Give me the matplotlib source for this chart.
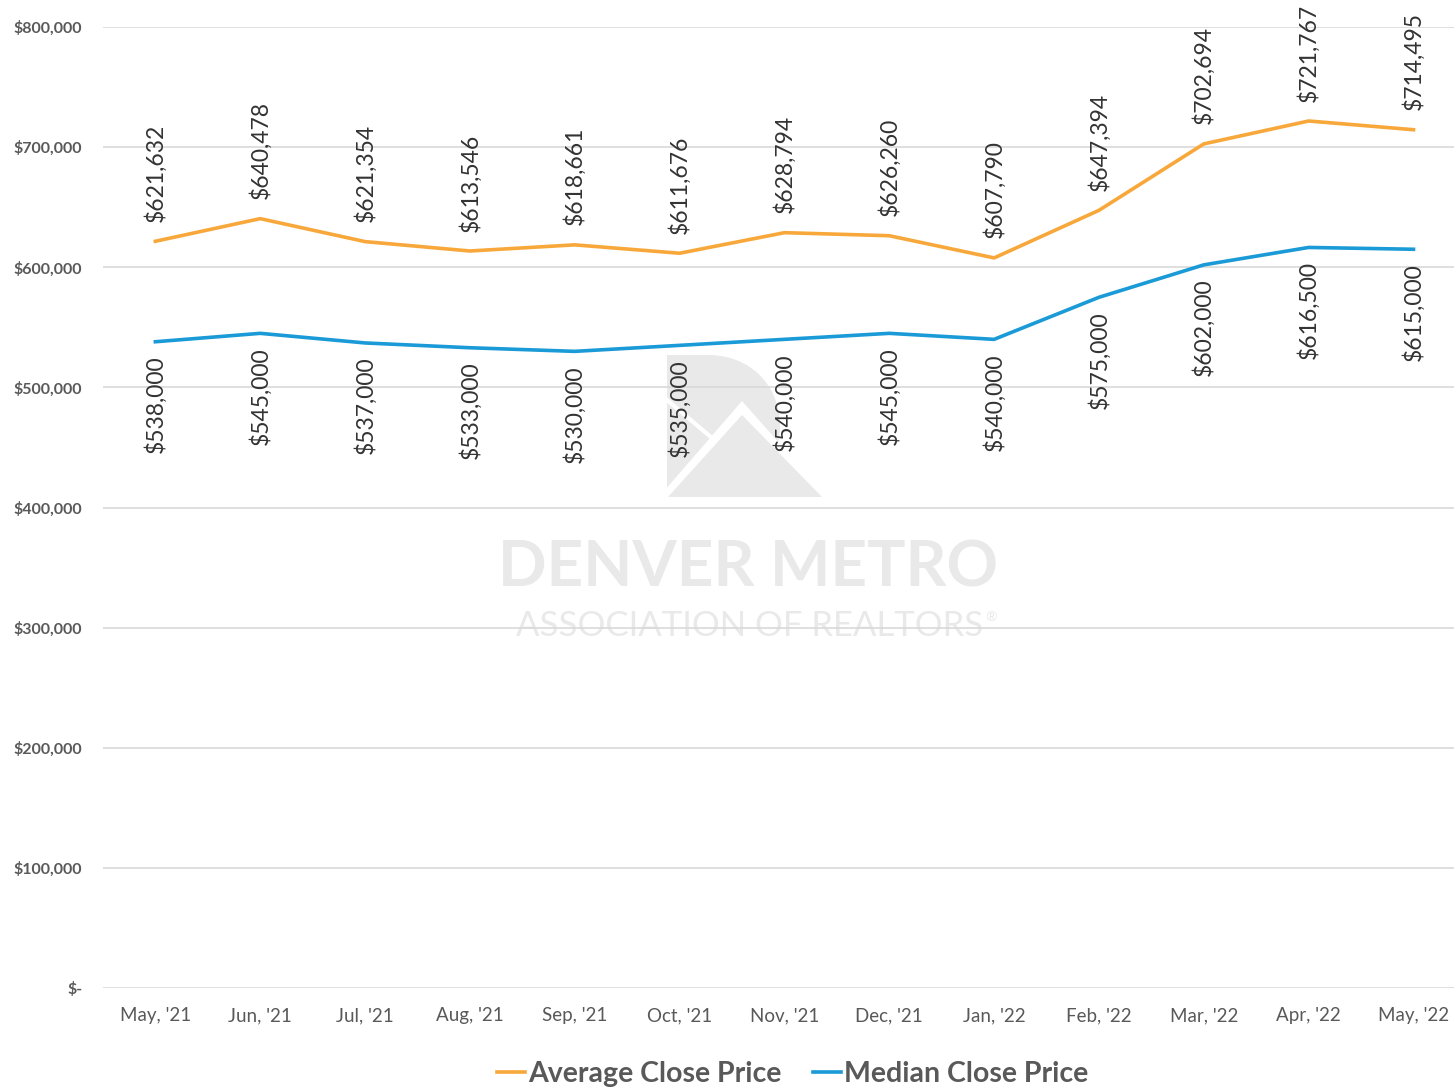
import matplotlib.pyplot as plt
import matplotlib.patches as mpatches
from matplotlib.path import Path
from matplotlib.ticker import FuncFormatter

# Datos
months = ["May, '21", "Jun, '21", "Jul, '21", "Aug, '21", "Sep, '21", "Oct, '21",
          "Nov, '21", "Dec, '21", "Jan, '22", "Feb, '22", "Mar, '22", "Apr, '22", "May, '22"]
avg_price = [621632, 640478, 621354, 613546, 618661, 611676, 628794,
             626260, 607790, 647394, 702694, 721767, 714495]
median_price = [538000, 545000, 537000, 533000, 530000, 535000, 540000,
                545000, 540000, 575000, 602000, 616500, 615000]

plt.rcParams['font.family'] = ['Lato', 'DejaVu Sans']

orange = '#F8A83B'
blue = '#1A9AD6'
text_gray = '#595959'
label_gray = '#333333'

W, H = 1454, 1089
def fp(px, py):
    # pixel -> coordenadas de figura
    return (px / W, 1 - py / H)

fig = plt.figure(figsize=(W / 100, H / 100), dpi=100)
ax = fig.add_axes([0.0708, 0.0927, 0.9374, 0.8825])
ax.patch.set_visible(False)

x = list(range(len(months)))
ax.plot(x, avg_price, color=orange, lw=2.6, label='Average Close Price', zorder=3)
ax.plot(x, median_price, color=blue, lw=2.6, label='Median Close Price', zorder=3)

# Etiquetas de datos
for i in x:
    ax.annotate(f"${avg_price[i]:,}", (i, avg_price[i]), xytext=(0, 14),
                textcoords='offset points', rotation=90, ha='center', va='bottom',
                fontsize=16.5, color=label_gray, zorder=4)
    ax.annotate(f"${median_price[i]:,}", (i, median_price[i]), xytext=(0, -10),
                textcoords='offset points', rotation=90, ha='center', va='top',
                fontsize=16.5, color=label_gray, zorder=4)

ax.set_xlim(-0.5, 12.5)
ax.set_ylim(0, 800000)
ax.set_yticks(range(0, 800001, 100000))
ax.yaxis.set_major_formatter(FuncFormatter(lambda v, p: '$-' if v == 0 else f"${int(v):,}"))
ax.set_xticks(x)
ax.set_xticklabels(months, fontsize=13.5, color=text_gray)
for t in ax.get_yticklabels():
    t.set_fontsize(11.5)
    t.set_fontweight('bold')
    t.set_color(text_gray)

ax.grid(axis='y', color='#d9d9d9', lw=1.2, zorder=0)
ax.tick_params(length=0)
ax.tick_params(axis='y', pad=15)
ax.tick_params(axis='x', pad=14)
for s in ax.spines.values():
    s.set_visible(False)

# Marca de agua (detras del grafico)
wm = '#e9e9e9'
d_verts = [fp(667, 355), fp(708, 355),
           fp(750, 355), fp(780, 385), fp(780, 426),
           fp(780, 467), fp(750, 497), fp(708, 497),
           fp(667, 497), fp(667, 355)]
d_codes = [Path.MOVETO, Path.LINETO,
           Path.CURVE4, Path.CURVE4, Path.CURVE4,
           Path.CURVE4, Path.CURVE4, Path.CURVE4,
           Path.LINETO, Path.CLOSEPOLY]
fig.patches.append(mpatches.PathPatch(Path(d_verts, d_codes), transform=fig.transFigure,
                                      facecolor=wm, edgecolor='none', zorder=-3))
fig.patches.append(mpatches.Polygon([fp(652, 505), fp(742, 401), fp(834, 505)], closed=True,
                                    transform=fig.transFigure, facecolor='white',
                                    edgecolor='none', zorder=-2.5))
fig.patches.append(mpatches.Polygon([fp(668, 497), fp(742, 415), fp(822, 497)], closed=True,
                                    transform=fig.transFigure, facecolor=wm,
                                    edgecolor='none', zorder=-2))
fig.lines.append(plt.Line2D([667 / W, 712 / W], [1 - 400 / H, 1 - 438 / H],
                            transform=fig.transFigure, color='white', lw=3, zorder=-1.5))
fig.text(748 / W, 1 - 568 / H, 'DENVER METRO', ha='center', va='center',
         fontsize=46, fontweight='bold', color=wm, zorder=-1)
fig.text(750 / W, 1 - 626 / H, 'ASSOCIATION OF REALTORS', ha='center', va='center',
         fontsize=25, color=wm, zorder=-1)
fig.text(985 / W, 1 - 617 / H, '®', ha='left', va='center',
         fontsize=10, color=wm, zorder=-1)

leg = fig.legend(loc='center', bbox_to_anchor=(0.545, 1 - 1074 / H), ncol=2, frameon=False,
                 fontsize=20.5, handlelength=1.0, handletextpad=0.1, columnspacing=1.1)
for t in leg.get_texts():
    t.set_color(text_gray)
    t.set_fontweight('bold')

fig.savefig('out.png', dpi=100)
